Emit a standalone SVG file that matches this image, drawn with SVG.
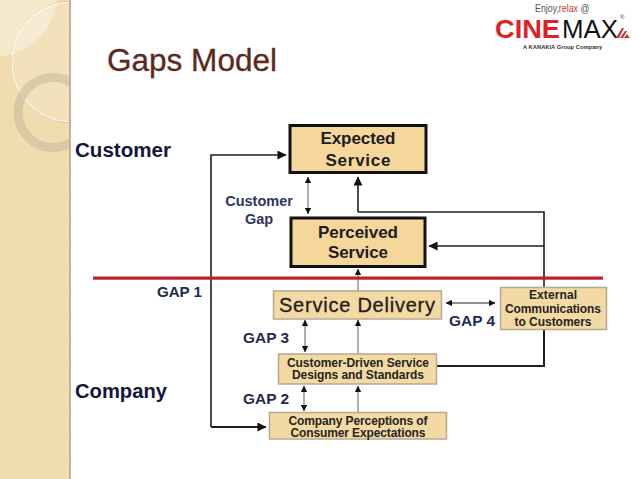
<svg xmlns="http://www.w3.org/2000/svg" width="638" height="479" viewBox="0 0 638 479">
<style>
text{font-family:"Liberation Sans",Arial,sans-serif;}
.side{font-size:20px;font-weight:bold;fill:#14163c;}
.gap{font-size:15.3px;font-weight:bold;fill:#1f2a50;}
.big{font-size:17px;font-weight:bold;fill:#1c1c1c;text-anchor:middle;}
.small{font-size:12px;font-weight:bold;fill:#26241e;text-anchor:middle;}
.strong{fill:#f6d79b;stroke:#111;stroke-width:3;}
.soft{fill:#f3d9a3;stroke:#b5aa90;stroke-width:1.5;}
.dark{fill:none;stroke:#1e1e1e;stroke-width:1.6;}
.grey{fill:none;stroke:#8f8f88;stroke-width:1.4;}
</style>
<defs>
<pattern id="weave" width="3" height="3" patternUnits="userSpaceOnUse">
<rect width="3" height="3" fill="#f3e0b6"/>
<rect width="1.5" height="1.5" fill="#eed8a8"/>
<rect x="1.5" y="1.5" width="1.5" height="1.5" fill="#eed8a8"/>
</pattern>
<clipPath id="panel"><rect width="70" height="479"/></clipPath>
<marker id="ah" viewBox="0 0 10 10" refX="9.5" refY="5" markerWidth="9" markerHeight="9" markerUnits="userSpaceOnUse" orient="auto-start-reverse"><path d="M0 0L10 5L0 10Z" fill="#111"/></marker>
<marker id="as" viewBox="0 0 10 10" refX="9.5" refY="5" markerWidth="6.500" markerHeight="6.500" markerUnits="userSpaceOnUse" orient="auto-start-reverse"><path d="M0 0L10 5L0 10Z" fill="#111"/></marker>
</defs>
<rect width="638" height="479" fill="#fff"/>
<g id="panel-art" clip-path="url(#panel)">
<rect width="70" height="479" fill="url(#weave)"/>
<path d="M0 0H57C54 30 30 52 0 57Z" fill="#fff" fill-opacity=".35"/>
<circle cx="72" cy="62" r="60" fill="#fff" fill-opacity=".14"/>
<circle cx="72.500" cy="62" r="60.800" fill="none" stroke="#a39a80" stroke-width=".8"/>
<circle cx="72" cy="62" r="60" fill="none" stroke="#fffdf6" stroke-width="1.2"/>
<circle cx="53" cy="112.5" r="35" fill="none" stroke="#c9bd9e" stroke-opacity=".6" stroke-width="9"/>
</g>
<rect x="69" y="0" width="2" height="479" fill="#c2b596"/>
<g id="logo">
<text transform="translate(535 12) scale(.84 1)" font-size="10.5" fill="#555">Enjoy,<tspan fill="#c0392b">relax</tspan> @</text>
<text x="495" y="38" font-size="26" font-weight="bold" fill="#e01f26" textLength="65" lengthAdjust="spacingAndGlyphs">CINE</text>
<text x="562" y="38" font-size="26" fill="#111" textLength="56" lengthAdjust="spacingAndGlyphs">MAX</text>
<path d="M616 38l6-10 2 0-5 10zM620 38l5-7 2 0-4 7zM624 38l3-4 3 4z" fill="#c8323a"/>
<text x="620" y="19" font-size="6" fill="#444">®</text>
<text x="523" y="48.500" font-size="5.800" font-weight="bold" fill="#333">A KANAKIA Group Company</text>
</g>
<text id="title" x="107" y="71" font-size="31" fill="#5a2a1e" stroke="#5a2a1e" stroke-width=".3" textLength="170" lengthAdjust="spacingAndGlyphs">Gaps Model</text>
<text class="side" x="75" y="157" textLength="96" lengthAdjust="spacingAndGlyphs">Customer</text>
<text class="side" x="75" y="398" textLength="92" lengthAdjust="spacingAndGlyphs">Company</text>
<g id="labels">
<text x="259" y="206" font-size="14.5" font-weight="bold" fill="#2e3560" text-anchor="middle">Customer</text>
<text x="259" y="224" font-size="14.5" font-weight="bold" fill="#2e3560" text-anchor="middle">Gap</text>
<text class="gap" x="157" y="297" textLength="45" lengthAdjust="spacingAndGlyphs">GAP 1</text>
<text class="gap" x="243" y="343" textLength="46" lengthAdjust="spacingAndGlyphs">GAP 3</text>
<text class="gap" x="243" y="404" textLength="46" lengthAdjust="spacingAndGlyphs">GAP 2</text>
<text class="gap" x="449" y="326" textLength="46" lengthAdjust="spacingAndGlyphs">GAP 4</text>
</g>
<g id="connectors">
<path class="dark" d="M211 427V155H286" marker-end="url(#ah)"/>
<path class="dark" d="M211 427H266" marker-end="url(#ah)" style="stroke-width:2"/>
<path class="dark" d="M358 212V177" marker-end="url(#ah)"/>
<path class="dark" d="M544 287V212H358"/>
<path class="dark" d="M544 246H429" marker-end="url(#ah)"/>
<path class="dark" d="M544 330V366H437" style="stroke-width:2"/>
<path class="grey" d="M308 177V214" marker-start="url(#as)" marker-end="url(#as)"/>
<path class="grey" d="M358 291V269" marker-end="url(#as)"/>
<path class="grey" d="M358 354V320" marker-end="url(#as)"/>
<path class="grey" d="M358 412V386" marker-end="url(#as)"/>
<path class="grey" d="M305 320V352" marker-start="url(#as)" marker-end="url(#as)"/>
<path class="grey" d="M304 386V411" marker-start="url(#as)" marker-end="url(#as)"/>
<path class="dark" d="M446 303H495" marker-start="url(#as)" marker-end="url(#as)" style="stroke-width:1.2"/>
</g>
<rect id="divider" x="93" y="276.500" width="510" height="3.200" fill="#bd1f2d"/>
<g id="expected-service">
<rect class="strong" x="290" y="125.500" width="136" height="47"/>
<text class="big" x="358" y="144" textLength="75">Expected</text>
<text class="big" x="358" y="166" textLength="65">Service</text>
</g>
<g id="perceived-service">
<rect class="strong" x="291" y="218" width="134" height="48.500"/>
<text class="big" x="358" y="238" textLength="80">Perceived</text>
<text class="big" x="358" y="258" textLength="60">Service</text>
</g>
<g id="service-delivery">
<rect class="soft" x="273.500" y="291" width="168" height="28"/>
<text x="279" y="312" font-size="20" fill="#23211b" stroke="#23211b" stroke-width=".3" textLength="156" lengthAdjust="spacing">Service Delivery</text>
</g>
<g id="external-communications">
<rect class="soft" x="500.500" y="287.500" width="106" height="42"/>
<text class="small" x="553" y="299" textLength="48">External</text>
<text class="small" x="553" y="313" textLength="96">Communications</text>
<text class="small" x="553" y="326" textLength="77">to Customers</text>
</g>
<g id="customer-driven">
<rect class="soft" x="278.500" y="354" width="158" height="30"/>
<text class="small" x="358" y="367" textLength="142">Customer-Driven Service</text>
<text class="small" x="358" y="379" textLength="132">Designs and Standards</text>
</g>
<g id="company-perceptions">
<rect class="soft" x="269.500" y="412.500" width="177" height="26.500"/>
<text class="small" x="358" y="425" textLength="139">Company Perceptions of</text>
<text class="small" x="358" y="437" textLength="135">Consumer Expectations</text>
</g>
</svg>
